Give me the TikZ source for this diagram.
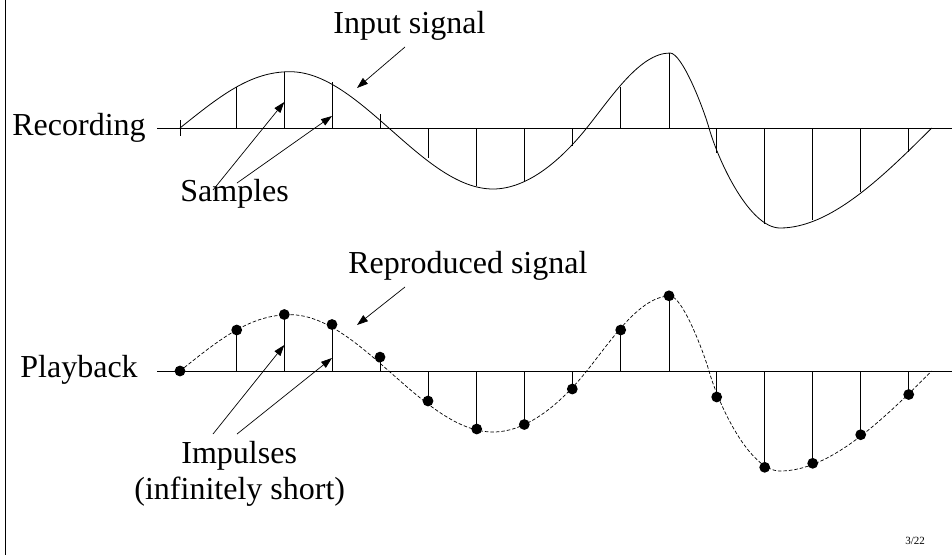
\documentclass[tikz,border=0pt]{standalone}
\usepackage{fontspec}
\setmainfont{Liberation Serif}
\usetikzlibrary{arrows.meta}
\begin{document}
\begin{tikzpicture}[x=1pt,y=-1pt,line width=0.8pt,
  lbl/.style={anchor=base west,inner sep=0pt,font=\fontsize{32}{38}\selectfont},
  ptr/.style={line width=0.7pt,-{Triangle[length=11pt,width=7.5pt]}},
  dotmark/.style={circle,fill=black,inner sep=0pt,minimum size=10.8pt},
  sig/.style={line width=0.8pt},
  sigdash/.style={line width=0.7pt,dash pattern=on 3.5pt off 2pt}]
\useasboundingbox (0,0) rectangle (952,555);
\newcommand\sigshape{(180,128) .. controls (220,96) and (250,71.7) .. (290,71.7)
  .. controls (360,71.7) and (423,189) .. (493,189)
  .. controls (528,189) and (561.7,159.25) .. (586.7,128)
  .. controls (611.7,96.75) and (640,53) .. (670,53)
  .. controls (682,53) and (703,107) .. (709,128)
  .. controls (719,163) and (750,228) .. (780,228)
  .. controls (830,228) and (881.7,178) .. (931.7,128)}
% left border
\draw[line width=0.9pt] (5,0) -- (5,555);
% ---------- Recording ----------
\draw (157,128) -- (952,128);
\draw (180,120) -- (180,136);
\draw[sig] \sigshape;
\foreach \x/\o in {236.7/40.7,284.3/56,332/46,380/14.3,428/-30.3,476.7/-57.5,524.3/-53.7,572.3/-17.7,620.7/40.7,669/75,716.7/-25,764.7/-96,812.7/-92,860.7/-63.7,908.7/-23.7}
  \draw (\x,128) -- (\x,{128-\o});
\node[lbl] (rec) at (12,135) {Recording};
\node[lbl] (inp) at (333,33) {Input signal};
\node[lbl] (smp) at (180,201) {Samples};
\coordinate (inpA) at (405,47);
\coordinate (inpB) at (357,88);
\draw[ptr] (inpA) -- (inpB);
\coordinate (smpA1) at (213,190);
\coordinate (smpB1) at (284.3,102);
\coordinate (smpA2) at (237,183);
\coordinate (smpB2) at (332,116);
\draw[ptr] (smpA1) -- (smpB1);
\draw[ptr] (smpA2) -- (smpB2);
% ---------- Playback ----------
\draw (157,371) -- (952,371);
\begin{scope}[shift={(0,243)}]
\draw[sigdash] \sigshape;
\end{scope}
\node[dotmark] (d0) at (180,371) {};
\foreach \x/\o [count=\i] in {236.7/41,284.3/56.5,332/46.5,380/13.9,428/-30,476.7/-58,524.3/-53.5,572.3/-18,620.7/41,669/75.2,716.7/-26,764.7/-96.3,812.7/-92.3,860.7/-63.7,908.7/-23.5}{
  \draw (\x,371) -- (\x,{371-\o});
  \node[dotmark] (d\i) at (\x,{371-\o}) {};
}
\node[lbl] (play) at (20,377) {Playback};
\node[lbl] (rep) at (348,273) {Reproduced signal};
\node[lbl] (imp) at (181,463) {Impulses};
\node[lbl] (inf) at (134,499.5) {(infinitely short)};
\coordinate (repA) at (405,287);
\coordinate (repB) at (357,325);
\draw[ptr] (repA) -- (repB);
\coordinate (impA1) at (213,434);
\coordinate (impB1) at (284.3,345);
\coordinate (impA2) at (237,434);
\coordinate (impB2) at (332,358);
\draw[ptr] (impA1) -- (impB1);
\draw[ptr] (impA2) -- (impB2);
\node[anchor=base west,inner sep=0pt,font=\fontsize{11}{13}\selectfont] (pg) at (905,544) {3/22};
\end{tikzpicture}
\end{document}
